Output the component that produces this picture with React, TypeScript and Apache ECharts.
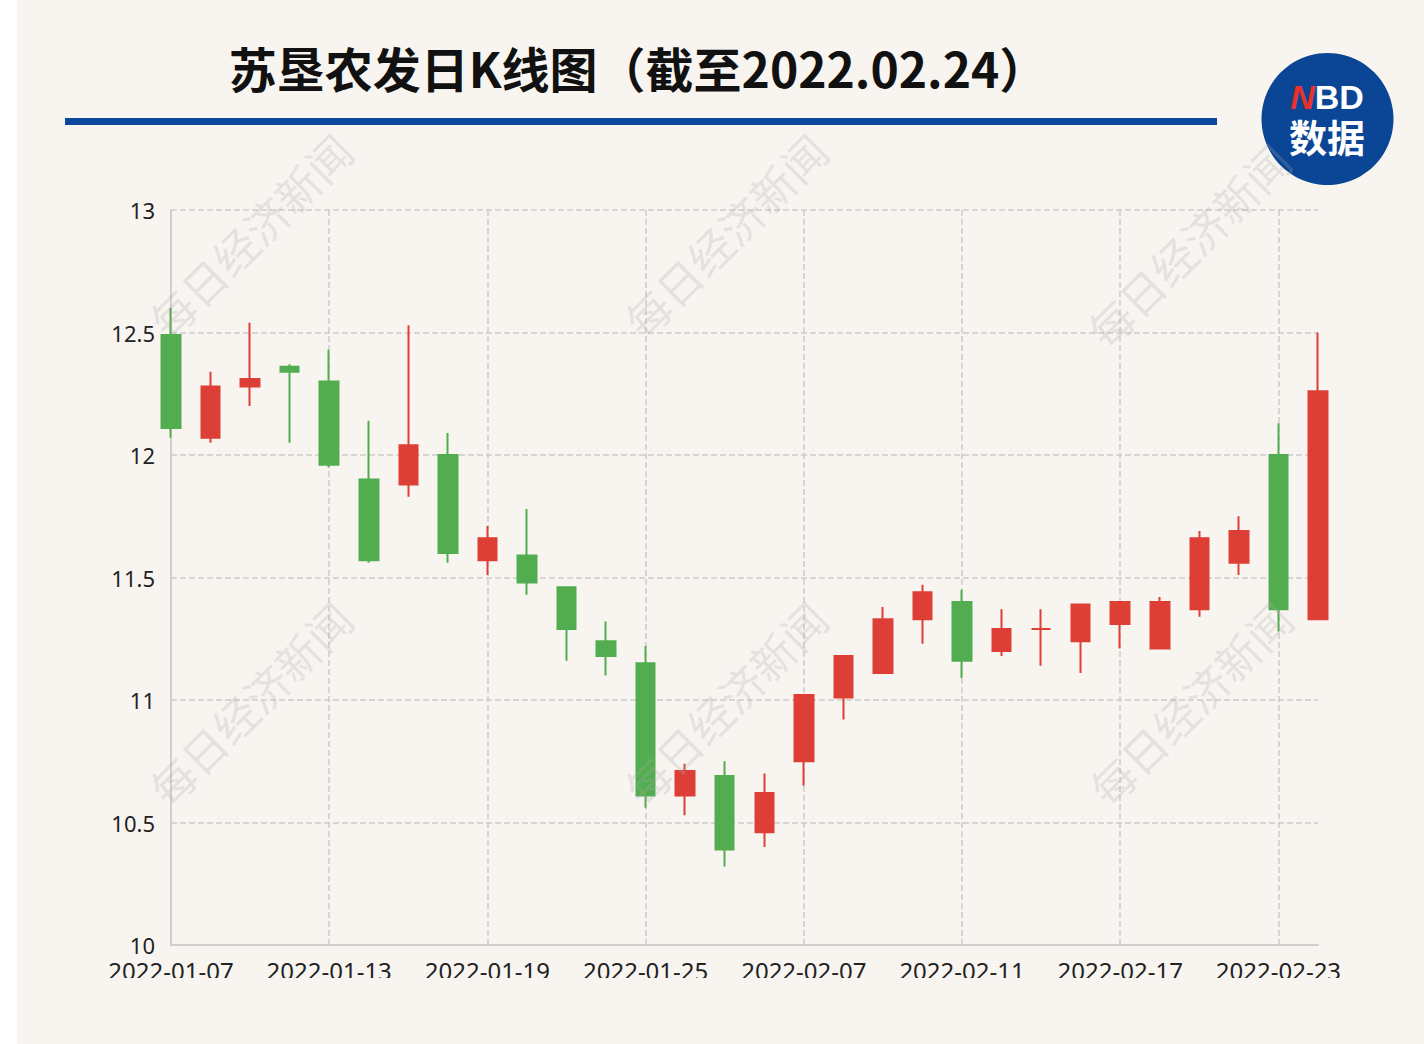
import React, { useEffect, useRef } from "react";
import * as echarts from "echarts";

const dates = [
  "2022-01-07", "2022-01-10", "2022-01-11", "2022-01-12", "2022-01-13",
  "2022-01-14", "2022-01-17", "2022-01-18", "2022-01-19", "2022-01-20",
  "2022-01-21", "2022-01-24", "2022-01-25", "2022-01-26", "2022-01-27",
  "2022-01-28", "2022-02-07", "2022-02-08", "2022-02-09", "2022-02-10",
  "2022-02-11", "2022-02-14", "2022-02-15", "2022-02-16", "2022-02-17",
  "2022-02-18", "2022-02-21", "2022-02-22", "2022-02-23", "2022-02-24",
];
const opens = [12.49, 12.07, 12.28, 12.36, 12.30, 11.90, 11.88, 12.00, 11.57, 11.59,
  11.46, 11.24, 11.15, 10.61, 10.69, 10.46, 10.75, 11.01, 11.11, 11.33,
  11.40, 11.20, 11.29, 11.24, 11.31, 11.21, 11.37, 11.56, 12.00, 11.33];
const closes = [12.11, 12.28, 12.31, 12.34, 11.96, 11.57, 12.04, 11.60, 11.66, 11.48,
  11.29, 11.18, 10.61, 10.71, 10.39, 10.62, 11.02, 11.18, 11.33, 11.44,
  11.16, 11.29, 11.29, 11.39, 11.40, 11.40, 11.66, 11.69, 11.37, 12.26];
const lows = [12.07, 12.05, 12.20, 12.05, 11.95, 11.56, 11.83, 11.56, 11.51, 11.43,
  11.16, 11.10, 10.56, 10.53, 10.32, 10.40, 10.65, 10.92, 11.11, 11.23,
  11.09, 11.18, 11.14, 11.11, 11.21, 11.21, 11.34, 11.51, 11.28, 11.33];
const highs = [12.60, 12.34, 12.54, 12.37, 12.43, 12.14, 12.53, 12.09, 11.71, 11.78,
  11.46, 11.32, 11.22, 10.74, 10.75, 10.70, 11.02, 11.18, 11.38, 11.47,
  11.45, 11.37, 11.37, 11.39, 11.40, 11.42, 11.69, 11.75, 12.13, 12.50];

const titleText = "苏垦农发日K线图（截至2022.02.24）";
const watermarkText = "每日经济新闻";
const watermarkCenters = [
  [250, 235], [725, 235], [1188, 245],
  [250, 703], [725, 703], [1190, 703],
];

const RED = "#dd3f36";
const GREEN = "#52ad50";

export default function App() {
  const ref = useRef<HTMLDivElement>(null);
  useEffect(() => {
    if (!ref.current) return;
    const chart = echarts.init(ref.current, null, { renderer: "svg" });
    const kData = dates.map((_, i) => [opens[i], closes[i], lows[i], highs[i]]);
    const watermarks = watermarkCenters.map(([x, y]) => ({
      type: "text",
      x,
      y,
      rotation: Math.PI / 4,
      z: 100,
      silent: true,
      style: {
        text: watermarkText,
        fontSize: 44,
        fontFamily: "Noto Sans CJK SC",
        fill: "rgba(170,170,170,0.26)",
        align: "center",
        verticalAlign: "middle",
        textAlign: "center",
        textVerticalAlign: "middle",
      },
    }));
    chart.setOption({
      animation: false,
      backgroundColor: "transparent",
      grid: { left: 171, right: 106, top: 210, bottom: 33, outerBoundsMode: "none", containLabel: false },
      xAxis: {
        type: "category",
        data: dates,
        boundaryGap: false,
        axisLine: { show: true, lineStyle: { color: "#cfcfcf", width: 2 } },
        axisTick: { show: false },
        axisLabel: {
          interval: 3,
          fontSize: 24,
          fontFamily: "Noto Sans",
          color: "#222",
          margin: 13,
        },
        splitLine: {
          show: true,
          interval: 3,
          lineStyle: { type: "dashed", color: "#cccccc", width: 1.5 },
        },
      },
      yAxis: {
        type: "value",
        min: 10,
        max: 13,
        interval: 0.5,
        axisLine: { show: true, lineStyle: { color: "#cfcfcf", width: 2 } },
        axisTick: { show: false },
        axisLabel: {
          fontSize: 22,
          fontFamily: "Noto Sans",
          color: "#222",
          margin: 16,
        },
        splitLine: {
          show: true,
          lineStyle: { type: "dashed", color: "#cccccc", width: 1.5 },
        },
      },
      series: [
        {
          type: "candlestick",
          data: kData,
          barWidth: 19,
          clip: false,
          itemStyle: {
            color: RED,
            color0: GREEN,
            borderColor: RED,
            borderColor0: GREEN,
            borderColorDoji: RED,
            borderWidth: 2,
          },
        },
      ],
      graphic: [
        {
          type: "text",
          x: 638,
          y: 67,
          style: {
            text: titleText,
            fontSize: 48,
            fontWeight: "bold",
            fontFamily: "Noto Sans CJK SC",
            fill: "#111111",
            align: "center",
            verticalAlign: "middle",
            textAlign: "center",
            textVerticalAlign: "middle",
          },
        },
        {
          type: "rect",
          shape: { x: 65, y: 118, width: 1152, height: 7 },
          style: { fill: "#0b479d" },
        },
        {
          type: "circle",
          shape: { cx: 1327.5, cy: 119, r: 66 },
          style: { fill: "#0b4596" },
        },
        {
          type: "text",
          x: 1327,
          y: 97,
          style: {
            text: "{n|N}{b|BD}",
            align: "center",
            verticalAlign: "middle",
            textAlign: "center",
            textVerticalAlign: "middle",
            rich: {
              n: {
                fill: "#e8312b",
                fontSize: 34,
                fontWeight: "bold",
                fontStyle: "italic",
                fontFamily: "Liberation Sans",
              },
              b: {
                fill: "#ffffff",
                fontSize: 34,
                fontWeight: "bold",
                fontFamily: "Liberation Sans",
              },
            },
          },
        },
        {
          type: "text",
          x: 1327,
          y: 135,
          style: {
            text: "数据",
            fontSize: 38,
            fontWeight: "bold",
            fontFamily: "Noto Sans CJK SC",
            fill: "#ffffff",
            align: "center",
            verticalAlign: "middle",
            textAlign: "center",
            textVerticalAlign: "middle",
          },
        },
        ...watermarks,
      ],
    });
    return () => chart.dispose();
  }, []);

  return (
    <div
      style={{
        position: "absolute",
        left: 0,
        top: 0,
        width: 1424,
        height: 1044,
        background: "#ffffff",
        overflow: "hidden",
      }}
    >
      <div
        style={{
          position: "absolute",
          left: 17,
          top: 0,
          width: 1407,
          height: 1044,
          background: "#f8f5f1",
        }}
      />
      <div
        ref={ref}
        style={{ position: "absolute", left: 0, top: 0, width: 1424, height: 978 }}
      />
    </div>
  );
}
